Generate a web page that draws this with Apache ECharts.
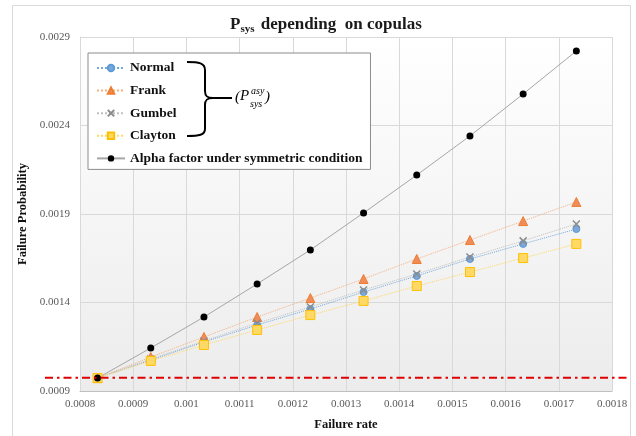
<!DOCTYPE html>
<html>
<head>
<meta charset="utf-8">
<script src="https://cdn.jsdelivr.net/npm/echarts@6/dist/echarts.min.js"></script>
<style>html,body{margin:0;padding:0;background:#fff;}#c{width:636px;height:436px;}</style>
</head>
<body>
<div id="c"></div>
<script>
// ---- data ----
const xValues = [0.000833, 0.000933, 0.001033, 0.001133, 0.001233, 0.001333, 0.001433, 0.001533, 0.001633, 0.001733];
const normalValues  = [0.000973, 0.001075, 0.001177, 0.001273, 0.001363, 0.001459, 0.001550, 0.001646, 0.001731, 0.001815];
const frankValues   = [0.000973, 0.001092, 0.001205, 0.001318, 0.001425, 0.001533, 0.001646, 0.001753, 0.001860, 0.001968];
const gumbelValues  = [0.000973, 0.001081, 0.001183, 0.001284, 0.001375, 0.001471, 0.001561, 0.001657, 0.001748, 0.001844];
const claytonValues = [0.000973, 0.001070, 0.001160, 0.001245, 0.001329, 0.001409, 0.001493, 0.001572, 0.001651, 0.001731];
const alphaValues   = [0.000973, 0.001143, 0.001318, 0.001505, 0.001697, 0.001906, 0.002120, 0.002341, 0.002578, 0.002821];
const thresholdValue = 0.000975;
const yTicks = [0.0009, 0.0014, 0.0019, 0.0024, 0.0029];
const seriesNames = ['Normal', 'Frank', 'Gumbel', 'Clayton', 'Alpha factor under symmetric condition'];

const pairs = vals => xValues.map((x, i) => [x, vals[i]]);
const serif = '"Liberation Serif", "Times New Roman", serif';
const fmt = v => String(+(+v).toFixed(5));

const chart = echarts.init(document.getElementById('c'), null, {renderer: 'canvas'});

const option = {
  animation: false,
  backgroundColor: '#ffffff',
  textStyle: {fontFamily: serif},
  title: {
    left: 225, top: 10,
    text: '{b|P}{s|sys}{b| depending  on copulas}',
    textStyle: {
      rich: {
        b: {fontFamily: serif, fontWeight: 'bold', fontSize: 17, color: '#1a1a1a'},
        s: {fontFamily: serif, fontWeight: 'bold', fontSize: 11, color: '#1a1a1a', padding: [9, 2, 0, 0]}
      }
    }
  },
  legend: {
    orient: 'vertical',
    left: 88, top: 53,
    padding: [8, 8, 4, 8],
    itemGap: 8.6,
    itemWidth: 28, itemHeight: 8,
    backgroundColor: '#ffffff',
    borderColor: '#8c8c8c', borderWidth: 1,
    data: seriesNames,
    textStyle: {fontFamily: serif, fontWeight: 'bold', fontSize: 13.5, color: '#111', padding: [0, 0, 0, 0]}
  },
  grid: {
    left: 80, right: 24, top: 37, bottom: 45,
    show: true, borderWidth: 0,
    backgroundColor: {
      type: 'linear', x: 0, y: 0, x2: 0, y2: 1,
      colorStops: [{offset: 0, color: '#ffffff'}, {offset: 1, color: '#ececec'}]
    }
  },
  xAxis: {
    type: 'value', min: 0.0008, max: 0.0018, interval: 0.0001,
    name: 'Failure rate', nameLocation: 'middle', nameGap: 27,
    nameTextStyle: {fontFamily: serif, fontWeight: 'bold', fontSize: 12.5, color: '#111'},
    axisLine: {show: true, lineStyle: {color: '#bfbfbf', width: 1}},
    axisTick: {show: false},
    axisLabel: {fontFamily: serif, fontSize: 11, color: '#595959', margin: 8, formatter: fmt},
    splitLine: {show: true, lineStyle: {color: '#d9d9d9', width: 1}}
  },
  yAxis: {
    type: 'value', min: 0.0009, max: 0.0029,
    axisTick: {show: false, customValues: yTicks},
    name: 'Failure Probability', nameLocation: 'middle', nameGap: 50,
    nameTextStyle: {fontFamily: serif, fontWeight: 'bold', fontSize: 12.5, color: '#111'},
    axisLine: {show: true, lineStyle: {color: '#d9d9d9', width: 1}},
    axisLabel: {fontFamily: serif, fontSize: 11, color: '#595959', margin: 10, formatter: fmt, customValues: yTicks},
    splitLine: {show: true, lineStyle: {color: '#d9d9d9', width: 1}}
  },
  series: [
    {
      name: seriesNames[0], type: 'line', data: pairs(normalValues),
      symbol: 'circle', symbolSize: 7,
      itemStyle: {color: '#7ba7dc', borderColor: '#5b9bd5', borderWidth: 1},
      lineStyle: {color: '#5b9bd5', width: 1, type: 'dotted', opacity: 0.85}
    },
    {
      name: seriesNames[1], type: 'line', data: pairs(frankValues),
      symbol: 'triangle', symbolSize: 9,
      itemStyle: {color: '#f08c5a', borderColor: '#ed7d31', borderWidth: 1},
      lineStyle: {color: '#f4b183', width: 1, type: 'dotted'}
    },
    {
      name: seriesNames[2], type: 'line', data: pairs(gumbelValues),
      symbol: 'path://M0,0L10,10M10,0L0,10', symbolSize: 7,
      itemStyle: {color: '#8c8c8c', borderColor: '#8c8c8c', borderWidth: 1.5},
      lineStyle: {color: '#c0c0c0', width: 1, type: 'dotted'}
    },
    {
      name: seriesNames[3], type: 'line', data: pairs(claytonValues),
      symbol: 'rect', symbolSize: 9,
      itemStyle: {color: '#ffd966', borderColor: '#ffc000', borderWidth: 1},
      lineStyle: {color: '#ffd966', width: 1, type: 'dotted'}
    },
    {
      name: seriesNames[4], type: 'line', data: pairs(alphaValues),
      symbol: 'circle', symbolSize: 7,
      itemStyle: {color: '#000000'},
      lineStyle: {color: '#a6a6a6', width: 1}
    }
  ]
};
chart.setOption(option);

// annotations: frame, brace, label and threshold line
const yThr = chart.convertToPixel({gridIndex: 0}, [0.0008, thresholdValue])[1];
const braceStyle = {fill: 'none', stroke: '#000', lineWidth: 2};
const bz = (x1, y1, c1x, c1y, c2x, c2y, x2, y2) => ({
  type: 'bezierCurve', z: 100, silent: true,
  shape: {x1: x1, y1: y1, cpx1: c1x, cpy1: c1y, cpx2: c2x, cpy2: c2y, x2: x2, y2: y2},
  style: braceStyle
});
const ln = (x1, y1, x2, y2) => ({
  type: 'line', z: 100, silent: true, shape: {x1: x1, y1: y1, x2: x2, y2: y2}, style: braceStyle
});
chart.setOption({
  graphic: [
    {type: 'rect', z: -10, silent: true, shape: {x: 12.5, y: 5.5, width: 618, height: 440},
     style: {fill: 'none', stroke: '#d9d9d9', lineWidth: 1}},
    bz(187, 62, 199, 62, 205, 63, 205, 70),
    ln(205, 70, 205, 91),
    bz(205, 91, 205, 96, 207, 98, 213, 98),
    ln(213, 98, 232, 98),
    bz(213, 98, 207, 98, 205, 100, 205, 105),
    ln(205, 105, 205, 129),
    bz(205, 129, 205, 135, 199, 136, 187, 136),
    {type: 'text', z: 100, silent: true, left: 235, top: 90,
     style: {text: '(', font: 'italic 15px ' + serif, fill: '#000'}},
    {type: 'text', z: 100, silent: true, left: 240, top: 89,
     style: {text: 'P', font: 'italic 15px ' + serif, fill: '#000'}},
    {type: 'text', z: 100, silent: true, left: 251, top: 86,
     style: {text: 'asy', font: 'italic 10px ' + serif, fill: '#000'}},
    {type: 'text', z: 100, silent: true, left: 250, top: 99,
     style: {text: 'sys', font: 'italic 10px ' + serif, fill: '#000'}},
    {type: 'text', z: 100, silent: true, left: 265, top: 90,
     style: {text: ')', font: 'italic 15px ' + serif, fill: '#000'}},
    {type: 'line', z: 50, silent: true, shape: {x1: 45, y1: yThr, x2: 627, y2: yThr},
     style: {stroke: '#e00000', lineWidth: 2, lineDash: [8, 4, 2.5, 4]}}
  ]
});
</script>
</body>
</html>
